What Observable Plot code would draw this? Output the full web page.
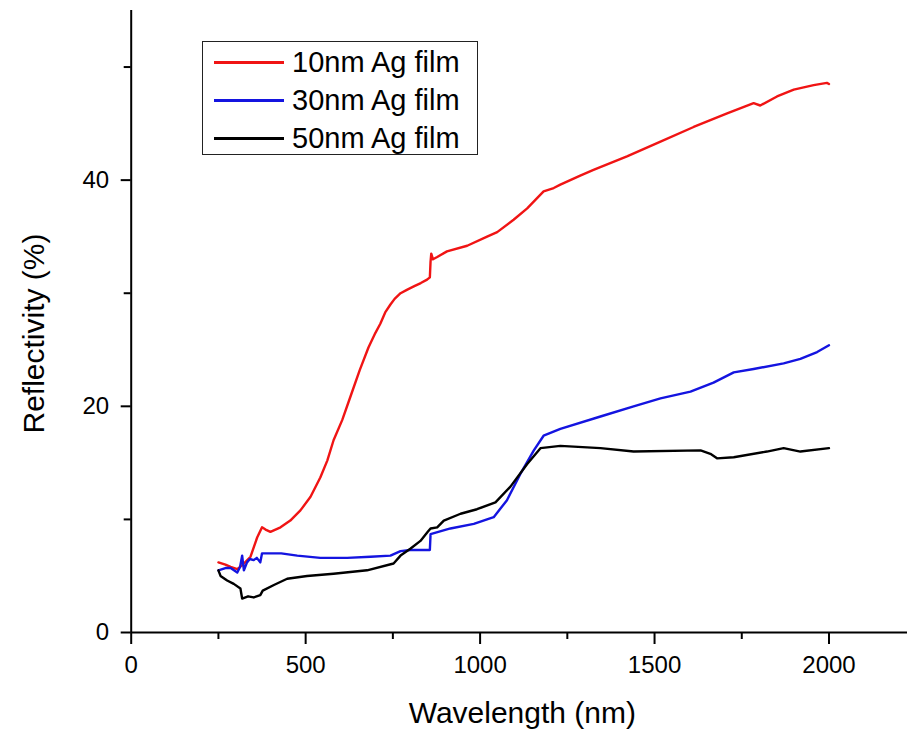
<!DOCTYPE html>
<html>
<head>
<meta charset="utf-8">
<script src="https://cdn.jsdelivr.net/npm/d3@7"></script>
<script src="https://cdn.jsdelivr.net/npm/@observablehq/plot@0.6"></script>
<style>
  body { margin: 0; background: #fff; }
  #wrap { position: relative; width: 909px; height: 729px; font-family: "Liberation Sans", Arial, sans-serif; }
  #legend { position: absolute; left: 202px; top: 41px; width: 274px; height: 112px; border: 1.5px solid #222; background: #fff; }
  .row { position: absolute; left: 0; height: 38px; display: flex; align-items: center; }
  .sw { position: absolute; left: 11px; width: 70px; height: 3px; }
  .lab { position: absolute; left: 89px; font-size: 29px; white-space: nowrap; line-height: 1; color: #000; }
</style>
</head>
<body>
<div id="wrap"></div>
<script>
// Series names and colours
const seriesNames = ["10nm Ag film", "30nm Ag film", "50nm Ag film"];
const seriesColors = ["#f01414", "#1414e0", "#000000"];

// 10nm Ag film
const wl10 = [250,270,285,304,320,342,361,375,385,399,428,456,485,514,542,562,580,605,630,655,680,700,714,728,743,755,772,790,810,830,848,856,858,860,865,877,905,963,1020,1049,1096,1135,1182,1211,1230,1287,1325,1421,1517,1612,1708,1784,1803,1851,1899,1956,1994,2000];
const r10  = [6.2,6.0,5.8,5.6,6.0,6.7,8.4,9.3,9.1,8.9,9.3,9.9,10.8,12.0,13.7,15.2,17.0,18.8,21.0,23.2,25.2,26.5,27.3,28.3,29.0,29.5,30.0,30.3,30.6,30.9,31.2,31.4,32.8,33.5,33.0,33.2,33.7,34.2,35.0,35.4,36.5,37.5,39.0,39.3,39.6,40.4,40.9,42.1,43.4,44.7,45.9,46.8,46.6,47.4,48.0,48.4,48.6,48.5];

// 30nm Ag film
const wl30 = [250,270,285,304,312,318,323,332,340,351,360,370,375,390,430,476,542,619,686,743,772,800,853,856,858,915,982,1039,1077,1115,1154,1182,1230,1345,1440,1517,1603,1669,1727,1784,1870,1918,1966,2000];
const r30  = [5.5,5.7,5.7,5.3,5.8,6.8,5.5,6.2,6.5,6.4,6.6,6.2,7.0,7.0,7.0,6.8,6.6,6.6,6.7,6.8,7.2,7.3,7.3,7.3,8.7,9.2,9.6,10.2,11.7,14.0,16.1,17.4,18.0,19.1,20.0,20.7,21.3,22.1,23.0,23.3,23.8,24.2,24.8,25.4];

// 50nm Ag film
const wl50 = [250,256,275,294,313,318,335,351,370,377,409,447,504,580,676,752,772,800,829,850,858,877,896,944,991,1044,1087,1135,1173,1230,1345,1440,1632,1660,1679,1727,1822,1870,1918,2000];
const r50  = [5.5,5.0,4.6,4.3,3.9,3.0,3.2,3.1,3.3,3.7,4.2,4.75,5.0,5.2,5.5,6.1,6.8,7.4,8.1,8.9,9.2,9.3,9.9,10.5,10.9,11.5,12.9,14.9,16.3,16.5,16.3,16.0,16.1,15.8,15.4,15.5,16.0,16.3,16.0,16.3];

// Axis ticks
const xMajor = [0, 500, 1000, 1500, 2000];
const xMinor = [250, 750, 1250, 1750];
const yMajor = [0, 20, 40];
const yMinor = [10, 30, 50];

const rows = [];
[[wl10, r10], [wl30, r30], [wl50, r50]].forEach(([w, r], i) => {
  w.forEach((x, j) => rows.push({wl: x, r: r[j], s: seriesNames[i]}));
});

const font = '"Liberation Sans", Arial, sans-serif';

const chart = Plot.plot({
  width: 909,
  height: 729,
  marginLeft: 130.7,
  marginRight: 2,
  marginTop: 10,
  marginBottom: 97,
  style: {fontFamily: font, color: "#000", background: "#fff", overflow: "visible"},
  x: {domain: [0, 2225]},
  y: {domain: [0, 55]},
  color: {domain: seriesNames, range: seriesColors},
  marks: [
    Plot.line(rows, {x: "wl", y: "r", z: "s", stroke: "s", strokeWidth: 2.4, strokeLinejoin: "round"}),
    Plot.ruleY([0], {stroke: "#000", strokeWidth: 2}),
    Plot.ruleX([0], {stroke: "#000", strokeWidth: 2}),
    Plot.axisX({ticks: xMajor, tickSize: 12, tickPadding: 11, tickFormat: d => String(d), fontSize: 24, strokeWidth: 2, label: null}),
    Plot.axisX({ticks: xMinor, tickSize: 7, text: null, strokeWidth: 2, label: null}),
    Plot.axisY({ticks: yMajor, tickSize: 10, tickPadding: 12, tickFormat: d => String(d), fontSize: 24, strokeWidth: 2, label: null}),
    Plot.axisY({ticks: yMinor, tickSize: 7, text: null, strokeWidth: 2, label: null}),
    Plot.text(["Wavelength (nm)"], {frameAnchor: "bottom", lineAnchor: "bottom", dy: 90, dx: 3, fontSize: 30, fill: "#000"}),
    Plot.text(["Reflectivity (%)"], {frameAnchor: "left", textAnchor: "middle", lineAnchor: "middle", rotate: -90, dx: -97, dy: 12, fontSize: 30, fill: "#000"})
  ]
});

const wrap = document.getElementById("wrap");
wrap.appendChild(chart);

const legend = document.createElement("div");
legend.id = "legend";
seriesNames.forEach((name, i) => {
  const row = document.createElement("div");
  row.className = "row";
  row.style.top = (1 + i * 38) + "px";
  row.style.width = "274px";
  const sw = document.createElement("div");
  sw.className = "sw";
  sw.style.background = seriesColors[i];
  const lab = document.createElement("div");
  lab.className = "lab";
  lab.textContent = name;
  row.appendChild(sw);
  row.appendChild(lab);
  legend.appendChild(row);
});
wrap.appendChild(legend);
</script>
</body>
</html>
